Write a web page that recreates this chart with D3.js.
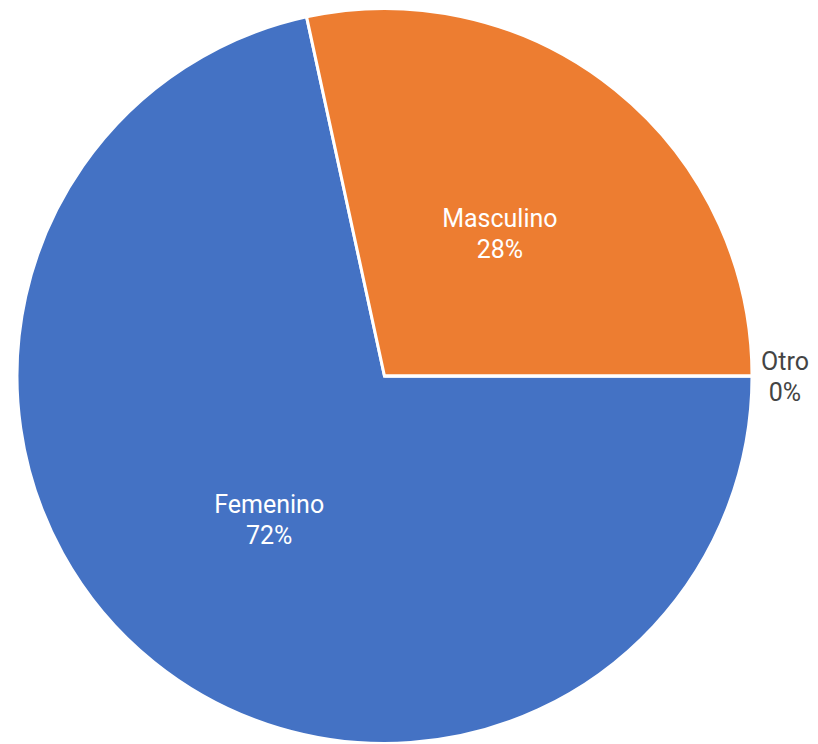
<!DOCTYPE html>
<html>
<head>
<meta charset="utf-8">
<script src="https://cdn.jsdelivr.net/npm/d3@7"></script>
<style>
html,body{margin:0;padding:0;background:#fff;}
svg{display:block;}
text{font-family:Roboto,"Noto Sans",sans-serif;}
</style>
</head>
<body>
<svg id="chart" width="818" height="744"></svg>
<script>
const categories = ["Femenino", "Masculino", "Otro"];
const values = [71.6, 28.4, 0];
const colors = ["#4472C4", "#ED7D31", "#A5A5A5"];

const W = 818, H = 744;
const cx = 384.5, cy = 376, R = 367.5;

const svg = d3.select("#chart");
const g = svg.append("g").attr("transform", `translate(${cx},${cy})`);

const data = categories.map((c, i) => ({ name: c, value: values[i], color: colors[i] }));
const total = d3.sum(values);

const pie = d3.pie().sort(null).value(d => d.value)
  .startAngle(Math.PI / 2).endAngle(Math.PI / 2 + 2 * Math.PI);
const arcs = pie(data);
const arc = d3.arc().innerRadius(0).outerRadius(R);

g.selectAll("path.slice").data(arcs).enter().append("path")
  .attr("class", "slice")
  .attr("d", arc)
  .attr("fill", d => d.data.color)
  .attr("stroke", "#fff")
  .attr("stroke-width", 3)
  .attr("stroke-linejoin", "miter");

const fmt = v => Math.round(v / total * 100) + "%";
const inner = d3.arc().innerRadius(R * 0.5).outerRadius(R * 0.5);

arcs.forEach(d => {
  const small = (d.endAngle - d.startAngle) < 0.1;
  let x, y, fill;
  if (small) {
    const a = (d.startAngle + d.endAngle) / 2;
    x = Math.sin(a) * (R + 33);
    y = -Math.cos(a) * (R + 33);
    fill = "#444";
  } else {
    [x, y] = inner.centroid(d);
    fill = "#fff";
  }
  const t = g.append("text")
    .attr("text-anchor", "middle")
    .attr("font-size", 25)
    .attr("fill", fill);
  t.append("tspan").attr("x", x).attr("y", y - 6).text(d.data.name);
  t.append("tspan").attr("x", x).attr("y", y + 25).text(fmt(d.data.value));
});
</script>
</body>
</html>
